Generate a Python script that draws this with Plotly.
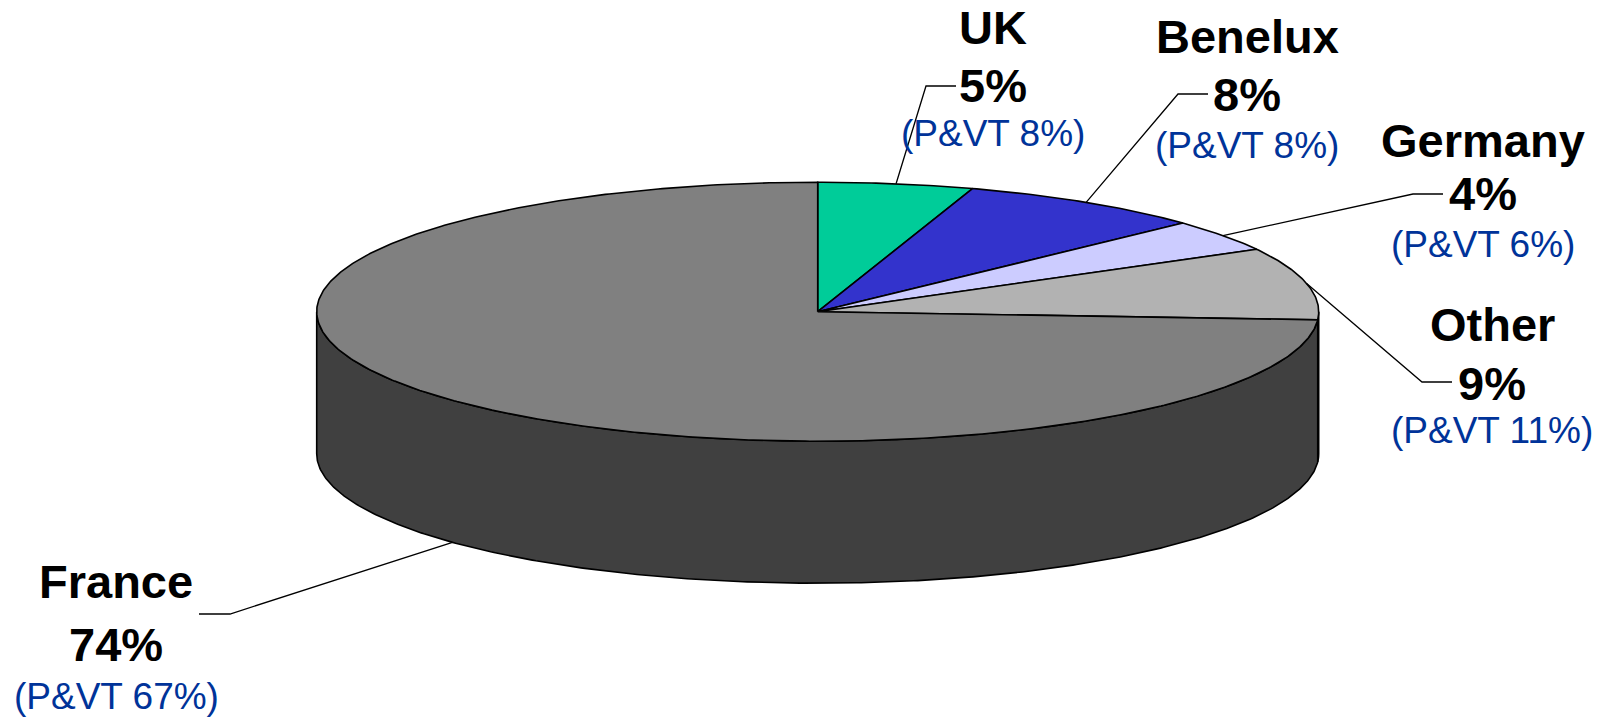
import numpy as np
import plotly.graph_objects as go

# Market share by region (percent), clockwise from 12 o'clock
regions = ["UK", "Benelux", "Germany", "Other", "France"]
shares = [5, 8, 4, 9, 74]
pvt_shares = [8, 8, 6, 11, 67]
top_colors = ["#00CC99", "#3333CC", "#CCCCFF", "#B2B2B2", "#808080"]

# Disc geometry in pixel space
CX, CY = 817.7, 311.7
RX, RY = 501.0, 129.5
DEPTH = 142.0

# Label layout: (x centre, y of name line, y of share line, y of P&VT line)
label_pos = {
    "UK": (993, 27.5, 85, 133),
    "Benelux": (1247, 36, 94, 145),
    "Germany": (1483, 140, 193.5, 244),
    "Other": (1492, 324, 383, 430),
    "France": (116, 581, 644, 696),
}
# Leader lines: elbow point and end of the horizontal run
leader_pts = {
    "UK": ((926, 86), (956, 86)),
    "Benelux": ((1178, 94), (1208, 94)),
    "Germany": ((1413, 194), (1443, 194)),
    "Other": ((1422, 382), (1452, 382)),
    "France": ((230, 614), (199, 614)),
}

BOLD_FONT = "Liberation Sans, Arial, sans-serif"
NAME_SIZE = 47
SUB_SIZE = 37
SUB_COLOR = "#003399"


def darker(hex_color, f=0.5):
    h = hex_color.lstrip("#")
    r, g, b = (int(h[i:i + 2], 16) for i in (0, 2, 4))
    return "#%02X%02X%02X" % (int(r * f), int(g * f), int(b * f))


def rim(theta_deg):
    t = np.radians(theta_deg)
    return CX + RX * np.sin(t), CY - RY * np.cos(t)


fig = go.Figure()

# slice angles (degrees clockwise from top)
total = float(sum(shares))
bounds = np.concatenate([[0.0], np.cumsum(shares) / total * 360.0])

# side walls: only the front half (90..270 deg) is visible
for i, name in enumerate(regions):
    a0, a1 = max(bounds[i], 90.0), min(bounds[i + 1], 270.0)
    if a1 <= a0:
        continue
    th = np.linspace(a0, a1, max(3, int((a1 - a0) * 2)))
    xt, yt = rim(th)
    xs = np.concatenate([xt, xt[::-1], xt[:1]])
    ys = np.concatenate([yt, (yt + DEPTH)[::-1], yt[:1]])
    fig.add_trace(go.Scatter(
        x=xs, y=ys, mode="lines", fill="toself",
        fillcolor=darker(top_colors[i]),
        line=dict(color="black", width=1.6),
        hoverinfo="skip", showlegend=False,
    ))

# top face slices
for i, name in enumerate(regions):
    a0, a1 = bounds[i], bounds[i + 1]
    th = np.linspace(a0, a1, max(3, int((a1 - a0) * 2)))
    xt, yt = rim(th)
    xs = np.concatenate([[CX], xt, [CX]])
    ys = np.concatenate([[CY], yt, [CY]])
    fig.add_trace(go.Scatter(
        x=xs, y=ys, mode="lines", fill="toself",
        fillcolor=top_colors[i],
        line=dict(color="black", width=1.6),
        hoverinfo="skip", showlegend=False,
    ))

# leader lines from each slice's mid angle to its label
for i, name in enumerate(regions):
    mid = (bounds[i] + bounds[i + 1]) / 2.0
    ax, ay = rim(mid)
    if 90.0 < mid < 270.0:
        ay = ay + DEPTH  # front slices attach at the lower rim
    (ex, ey), (hx, hy) = leader_pts[name]
    fig.add_trace(go.Scatter(
        x=[ax, ex, hx], y=[ay, ey, hy], mode="lines",
        line=dict(color="black", width=1.3),
        hoverinfo="skip", showlegend=False,
    ))

# labels
for i, name in enumerate(regions):
    xc, y1, y2, y3 = label_pos[name]
    for txt, yy, size, color, bold in [
        (name, y1, NAME_SIZE, "black", True),
        (f"{shares[i]}%", y2, NAME_SIZE, "black", True),
        (f"(P&VT {pvt_shares[i]}%)", y3, SUB_SIZE, SUB_COLOR, False),
    ]:
        fig.add_annotation(
            x=xc, y=yy, xref="x", yref="y",
            text=f"<b>{txt}</b>" if bold else txt,
            showarrow=False, xanchor="center", yanchor="middle",
            font=dict(family=BOLD_FONT, size=size, color=color),
        )

fig.update_xaxes(range=[0, 1606], visible=False, fixedrange=True)
fig.update_yaxes(range=[718, 0], visible=False, fixedrange=True)
fig.update_layout(
    width=1606, height=718, autosize=False,
    margin=dict(l=0, r=0, t=0, b=0),
    paper_bgcolor="white", plot_bgcolor="white",
    showlegend=False,
)

fig.write_html("out.html")
